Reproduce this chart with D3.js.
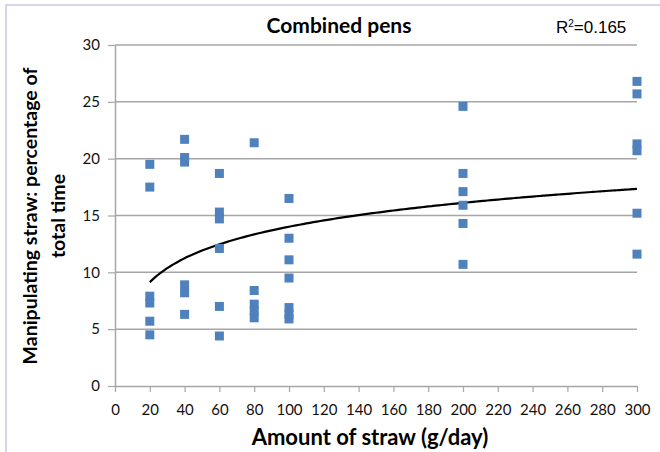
<!DOCTYPE html>
<html>
<head>
<meta charset="utf-8">
<script src="https://cdn.jsdelivr.net/npm/d3@7"></script>
<style>
  body { margin: 0; background: #fff; }
  svg { display: block; }
</style>
</head>
<body>
<svg id="chart" width="660" height="452"></svg>
<script>
// straw amount (g/day) and % time manipulating straw, one entry per pen
const strawX = [20, 20, 20, 20, 20, 20,
                40, 40, 40, 40, 40, 40,
                60, 60, 60, 60, 60, 60,
                80, 80, 80, 80, 80,
                100, 100, 100, 100, 100, 100, 100,
                200, 200, 200, 200, 200, 200,
                300, 300, 300, 300, 300, 300];
const strawY = [19.5, 17.5, 7.9, 7.3, 5.7, 4.5,
                21.7, 20.1, 19.7, 8.9, 8.2, 6.3,
                18.7, 15.3, 14.7, 12.1, 7.0, 4.4,
                21.4, 8.4, 7.2, 6.6, 6.0,
                16.5, 13.0, 11.1, 9.5, 6.9, 6.3, 5.9,
                24.6, 18.7, 17.1, 15.9, 14.3, 10.7,
                26.8, 25.7, 21.3, 20.7, 15.2, 11.6];
const xTicks = d3.range(0, 301, 20);
const yTicks = [0, 5, 10, 15, 20, 25, 30];
// log trend line y = a*ln(x) + b
const trendA = 3.03, trendB = 0.06;
const rSquared = "0.165";

const svg = d3.select("#chart");
const margin = {left: 115, right: 23, top: 45, bottom: 66};
const w = 660, h = 452;

const x = d3.scaleLinear().domain([0, 300]).range([margin.left, w - margin.right]);
const y = d3.scaleLinear().domain([0, 30]).range([h - margin.bottom, margin.top]);

// lavender frame round the picture
svg.append("rect")
  .attr("x", 6).attr("y", 5)
  .attr("width", 700).attr("height", 500)
  .attr("fill", "none")
  .attr("stroke", "#c8c8ec")
  .attr("stroke-width", 1.5);

// horizontal gridlines
svg.append("g")
  .selectAll("line")
  .data(yTicks.filter(d => d > 0))
  .enter()
  .append("line")
  .attr("x1", x(0)).attr("x2", x(300))
  .attr("y1", d => y(d)).attr("y2", d => y(d))
  .attr("stroke", "#a6a6a6")
  .attr("stroke-width", 1.5);

const tickFont = "Lato, 'Open Sans', sans-serif";

const yAxis = svg.append("g")
  .attr("transform", "translate(" + x(0) + ",0)")
  .call(d3.axisLeft(y).tickValues(yTicks).tickSize(7).tickSizeOuter(0).tickPadding(8));

const xAxis = svg.append("g")
  .attr("transform", "translate(0," + y(0) + ")")
  .call(d3.axisBottom(x).tickValues(xTicks).tickSize(6).tickSizeOuter(0).tickPadding(12));

[xAxis, yAxis].forEach(ax => {
  ax.select(".domain").attr("stroke", "#a6a6a6").attr("stroke-width", 1.5);
  ax.selectAll(".tick line").attr("stroke", "#a6a6a6").attr("stroke-width", 1.2);
  ax.selectAll(".tick text")
    .attr("fill", "#111")
    .style("font-family", tickFont)
    .style("font-size", "15px");
});

// trend curve
const line = d3.line()
  .x(d => x(d))
  .y(d => y(trendA * Math.log(d) + trendB))
  .curve(d3.curveBasis);
svg.append("path")
  .datum(d3.range(20, 300.1, 2))
  .attr("d", line)
  .attr("fill", "none")
  .attr("stroke", "#000")
  .attr("stroke-width", 2.2);

// points
const sz = 9;
svg.append("g")
  .selectAll("rect")
  .data(strawX.map((d, i) => [d, strawY[i]]))
  .enter()
  .append("rect")
  .attr("x", d => x(d[0]) - sz / 2)
  .attr("y", d => y(d[1]) - sz / 2)
  .attr("width", sz).attr("height", sz)
  .attr("fill", "#4f81bd");

// titles
svg.append("text")
  .attr("x", 339).attr("y", 33)
  .attr("text-anchor", "middle")
  .style("font-family", tickFont)
  .style("font-weight", "bold")
  .style("font-size", "21px")
  .text("Combined pens");

const r2 = svg.append("text")
  .attr("x", 556).attr("y", 33)
  .style("font-family", "'Liberation Sans', Arial, sans-serif")
  .style("font-size", "17px")
  .text("R");
r2.append("tspan").attr("dy", -6).style("font-size", "10px").text("2");
r2.append("tspan").attr("dy", 6).text("=" + rSquared);

svg.append("text")
  .attr("x", 370).attr("y", 445)
  .attr("text-anchor", "middle")
  .style("font-family", tickFont)
  .style("font-weight", "bold")
  .style("font-size", "22px")
  .text("Amount of straw (g/day)");

const yt = svg.append("text")
  .attr("transform", "translate(37," + 216 + ") rotate(-90)")
  .attr("text-anchor", "middle")
  .style("font-family", tickFont)
  .style("font-weight", "bold")
  .style("font-size", "19.5px");
yt.append("tspan").attr("x", 0).attr("y", 0).text("Manipulating straw: percentage of");
yt.append("tspan").attr("x", 0).attr("y", 28).text("total time");
</script>
</body>
</html>
